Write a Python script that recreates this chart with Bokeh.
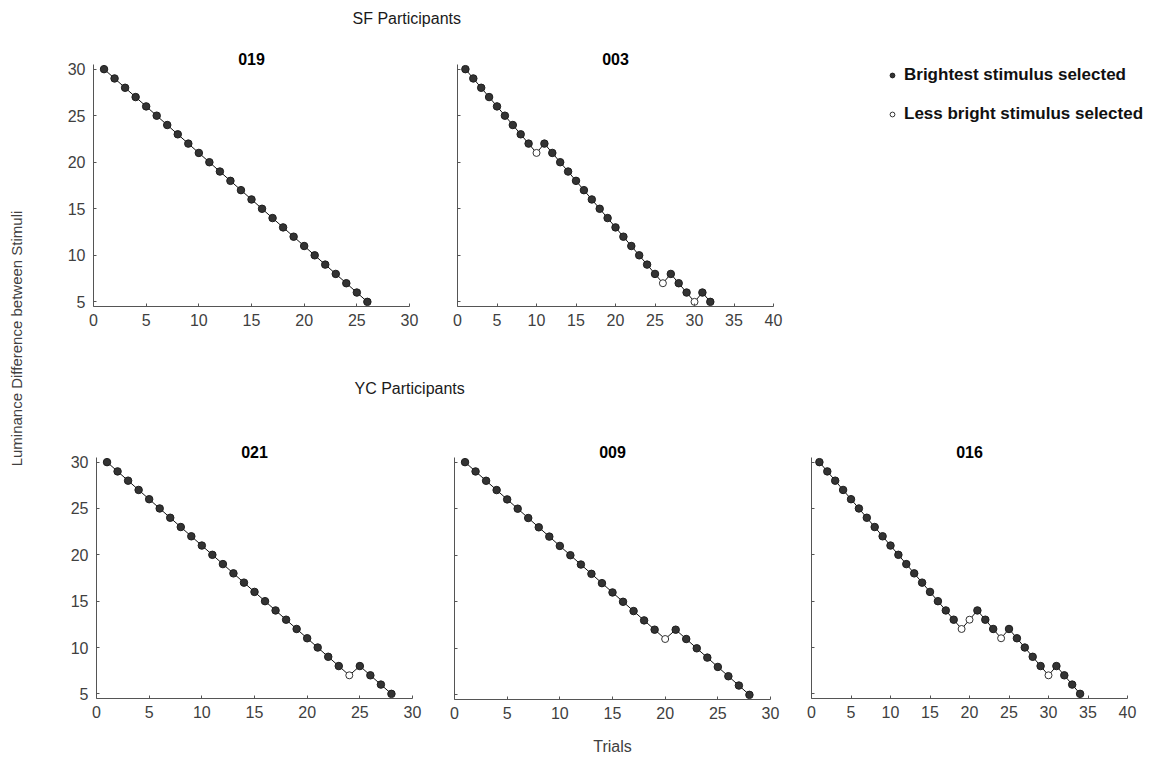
import numpy as np
from bokeh.plotting import figure
from bokeh.models import Range1d, Label, Legend, LegendItem, FixedTicker
from bokeh.layouts import row, column
from bokeh.embed import file_html
from bokeh.resources import INLINE

FONT = "Liberation Sans"

# ---------------- data ----------------
# selection codes: "B" = brightest stimulus selected, "L" = less bright stimulus selected
sf019_trials = list(range(1, 27))
sf019_diff = [30, 29, 28, 27, 26, 25, 24, 23, 22, 21, 20, 19, 18, 17, 16, 15, 14, 13, 12, 11, 10, 9, 8, 7, 6, 5]
sf019_sel = ["B"] * 26

sf003_trials = list(range(1, 33))
sf003_diff = [30, 29, 28, 27, 26, 25, 24, 23, 22, 21, 22, 21, 20, 19, 18, 17, 16, 15, 14, 13, 12, 11, 10, 9, 8, 7,
              8, 7, 6, 5, 6, 5]
sf003_sel = ["B"] * 9 + ["L"] + ["B"] * 15 + ["L"] + ["B"] * 3 + ["L"] + ["B"] * 2

yc021_trials = list(range(1, 29))
yc021_diff = [30, 29, 28, 27, 26, 25, 24, 23, 22, 21, 20, 19, 18, 17, 16, 15, 14, 13, 12, 11, 10, 9, 8, 7, 8, 7, 6, 5]
yc021_sel = ["B"] * 23 + ["L"] + ["B"] * 4

yc009_trials = list(range(1, 29))
yc009_diff = [30, 29, 28, 27, 26, 25, 24, 23, 22, 21, 20, 19, 18, 17, 16, 15, 14, 13, 12, 11, 12, 11, 10, 9, 8, 7, 6, 5]
yc009_sel = ["B"] * 19 + ["L"] + ["B"] * 8

yc016_trials = list(range(1, 35))
yc016_diff = [30, 29, 28, 27, 26, 25, 24, 23, 22, 21, 20, 19, 18, 17, 16, 15, 14, 13, 12, 13, 14, 13, 12, 11, 12, 11,
              10, 9, 8, 7, 8, 7, 6, 5]
yc016_sel = ["B"] * 18 + ["L", "L"] + ["B"] * 3 + ["L"] + ["B"] * 5 + ["L"] + ["B"] * 4

y_ticks = [5, 10, 15, 20, 25, 30]
legend_labels = ["Brightest stimulus selected", "Less bright stimulus selected"]

FILL_DARK = "#333333"
EDGE_DARK = "#1e1e1e"
AXIS_COL = "#555555"
TICK_TXT = "#404040"


def text_fig(w, h, **kw):
    f = figure(width=w, height=h, x_range=Range1d(0, w), y_range=Range1d(0, h),
               x_axis_type=None, y_axis_type=None, toolbar_location=None,
               output_backend="svg", tools="", **kw)
    f.outline_line_color = None
    return f


def make_panel(title, trials, diff, sel, xmax, bl, br, row_top, row_h, y30, y5, ylabels):
    pad = 0.5
    unit = (y5 - y30) / 25.0
    ftop = y30 - pad * unit
    fbot = y5 + pad * unit
    fh = int(round(fbot - ftop))
    bt = int(round(ftop - row_top))
    bb = row_h - bt - fh
    p = figure(frame_width=316, frame_height=fh, min_border_left=bl, min_border_right=br,
               min_border_top=bt, min_border_bottom=bb,
               x_range=Range1d(0, xmax), y_range=Range1d(5 - pad, 30 + pad),
               toolbar_location=None, output_backend="svg", tools="")
    p.title.text = title
    p.title.align = "center"
    p.title.text_font = FONT
    p.title.text_font_size = "16px"
    p.title.text_font_style = "bold"
    p.title.text_color = "black"
    p.title.standoff = 0
    p.outline_line_color = None
    p.xgrid.visible = False
    p.ygrid.visible = False

    p.xaxis.ticker = FixedTicker(ticks=list(range(0, xmax + 1, 5)))
    p.yaxis.ticker = FixedTicker(ticks=y_ticks)
    for ax in (p.xaxis[0], p.yaxis[0]):
        ax.major_tick_in = 3
        ax.major_tick_out = 0
        ax.minor_tick_in = 0
        ax.minor_tick_out = 0
        ax.axis_line_color = AXIS_COL
        ax.major_tick_line_color = AXIS_COL
        ax.major_label_text_font = FONT
        ax.major_label_text_font_size = "16px"
        ax.major_label_text_color = TICK_TXT
    p.xaxis.major_label_standoff = 7
    p.yaxis.major_label_standoff = 8
    if not ylabels:
        p.yaxis.major_label_overrides = {t: "" for t in y_ticks}

    p.line(trials, diff, line_color="#111111", line_width=1)
    bx = [t for t, s in zip(trials, sel) if s == "B"]
    by = [d for d, s in zip(diff, sel) if s == "B"]
    lx = [t for t, s in zip(trials, sel) if s == "L"]
    ly = [d for d, s in zip(diff, sel) if s == "L"]
    p.scatter(bx, by, size=7.5, fill_color=FILL_DARK, line_color=EDGE_DARK, line_width=1)
    if lx:
        p.scatter(lx, ly, size=7, fill_color="white", line_color="#333333", line_width=1)
    return p


# ---------------- layout ----------------
TOP_ROW_TOP, TOP_ROW_H = 28, 310
BOT_ROW_TOP, BOT_ROW_H = 398, 330

f019 = make_panel("019", sf019_trials, sf019_diff, sf019_sel, 30, 33, 31, TOP_ROW_TOP, TOP_ROW_H, 69, 302, True)
f003 = make_panel("003", sf003_trials, sf003_diff, sf003_sel, 40, 17, 27, TOP_ROW_TOP, TOP_ROW_H, 69, 302, False)

f021 = make_panel("021", yc021_trials, yc021_diff, yc021_sel, 30, 36, 28, BOT_ROW_TOP, BOT_ROW_H, 462, 694, True)
f009 = make_panel("009", yc009_trials, yc009_diff, yc009_sel, 30, 14, 25, BOT_ROW_TOP, BOT_ROW_H, 459, 692, False)
f016 = make_panel("016", yc016_trials, yc016_diff, yc016_sel, 40, 16, 27, BOT_ROW_TOP, BOT_ROW_H, 458, 690, False)

# legend panel (frame offset by borders; legend pinned to the frame's top-left corner)
lg = figure(width=354, height=TOP_ROW_H, x_range=Range1d(0, 1), y_range=Range1d(0, 1),
            x_axis_type=None, y_axis_type=None, toolbar_location=None, output_backend="svg",
            tools="", min_border_left=86, min_border_top=29, min_border_right=0, min_border_bottom=0)
lg.outline_line_color = None
# key renderers: one sample each, kept outside the visible range so only the legend keys show
r1 = lg.scatter(x=[-1], y=[-1], size=7.5, fill_color=FILL_DARK, line_color=EDGE_DARK, line_width=1)
r2 = lg.scatter(x=[-1], y=[-1], size=7, fill_color="white", line_color="#333333", line_width=1)
legend = Legend(items=[LegendItem(label=legend_labels[0], renderers=[r1]),
                       LegendItem(label=legend_labels[1], renderers=[r2])],
                location="top_left", orientation="vertical",
                glyph_width=12, glyph_height=22, label_height=22, label_standoff=6,
                spacing=17, padding=5, margin=0,
                border_line_color=None, background_fill_alpha=0,
                label_text_font=FONT, label_text_font_size="17px",
                label_text_font_style="bold", label_text_color="#111111")
lg.add_layout(legend)

# group headings
hdr1 = text_fig(1094, 28, min_border=0)
hdr1.add_layout(Label(x=292, y=10, text="SF Participants", text_font=FONT, text_font_size="16px",
                      text_align="left", text_baseline="middle", text_color="#1a1a1a"))
hdr2 = text_fig(1094, 60, min_border=0)
hdr2.add_layout(Label(x=294, y=10, text="YC Participants", text_font=FONT, text_font_size="16px",
                      text_align="left", text_baseline="middle", text_color="#1a1a1a"))

# shared axis titles
trials_fig = text_fig(1094, 27, min_border=0)
trials_fig.add_layout(Label(x=552, y=9, text="Trials", text_font=FONT, text_font_size="16px",
                            text_align="center", text_baseline="middle", text_color=TICK_TXT))

ylab = text_fig(60, 755, min_border=0)
ylab.add_layout(Label(x=16, y=755 - 338, text="Luminance Difference between Stimuli", angle=np.pi / 2,
                      text_font=FONT, text_font_size="15px", text_align="center",
                      text_baseline="middle", text_color=TICK_TXT))

layout = row(ylab, column(hdr1, row(f019, f003, lg), hdr2, row(f021, f009, f016), trials_fig))

with open("out.html", "w") as fh_out:
    fh_out.write(file_html(layout, INLINE))
